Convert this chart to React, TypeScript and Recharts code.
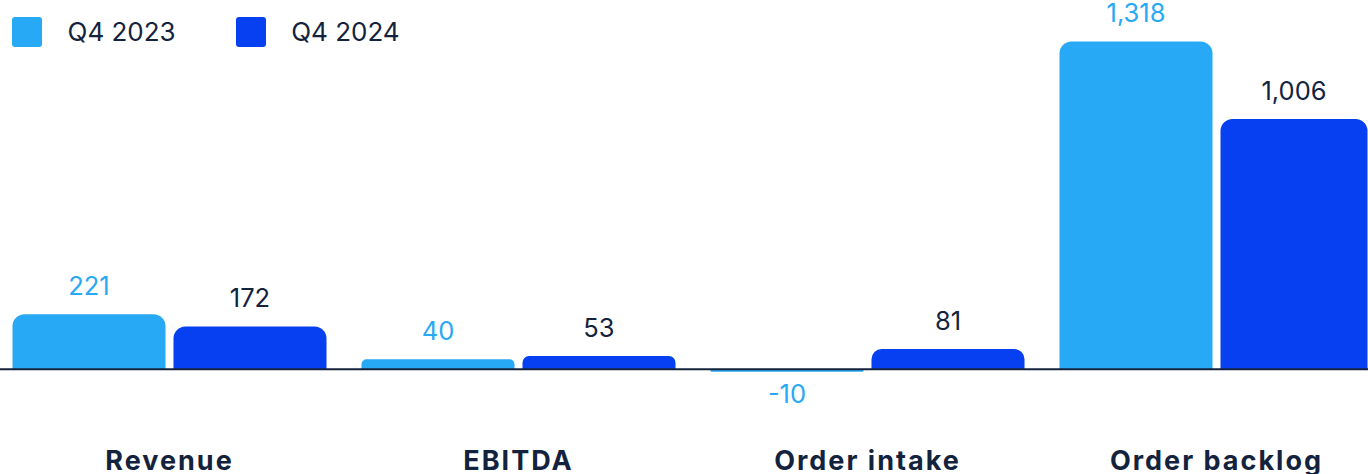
import { Bar, BarChart, LabelList, Legend, Rectangle, ReferenceLine, XAxis, YAxis } from "recharts";

const categories = ["Revenue", "EBITDA", "Order intake", "Order backlog"];
const q4_2023 = [221, 40, -10, 1318];
const q4_2024 = [172, 53, 81, 1006];
const seriesNames = ["Q4 2023", "Q4 2024"];

const data = categories.map((name, i) => ({
  name,
  prev: q4_2023[i],
  curr: q4_2024[i],
}));

const LIGHT = "#28a9f5";
const DARK = "#0640f1";
const NAVY = "#14233d";

const FRAME_W = 1368;
const FRAME_H = 474;
const CHART_LEFT = -5.5;
const CHART_W = 1396;
// bars stop 1px short of the frame edge so their corners stay visible
const VISIBLE_RIGHT = FRAME_W - 1 - CHART_LEFT;

function clampWidth(x: number, width: number) {
  return Math.max(0, Math.min(width, VISIBLE_RIGHT - x));
}

function ClampedBar(props: any) {
  return <Rectangle {...props} width={clampWidth(props.x, props.width)} />;
}

function valueLabel(color: string) {
  return (props: any) => {
    const { x, y, width, height, value } = props;
    const w = clampWidth(Number(x), Number(width));
    const cx = Number(x) + w / 2;
    const top = Math.min(Number(y), Number(y) + Number(height));
    const bottom = Math.max(Number(y), Number(y) + Number(height));
    const v = Number(value);
    const ty = v >= 0 ? top - 19 : bottom + 31;
    return (
      <text x={cx} y={ty} textAnchor="middle" fill={color} fontSize={25.5}>
        {v.toLocaleString("en-US")}
      </text>
    );
  };
}

function LegendContent() {
  const colors = [LIGHT, DARK];
  return (
    <div style={{ display: "flex", alignItems: "center", fontFamily: "Inter, sans-serif" }}>
      {seriesNames.map((name, i) => (
        <div
          key={name}
          style={{ display: "flex", alignItems: "center", marginRight: i === 0 ? 60 : 0 }}
        >
          <span
            style={{
              width: 30,
              height: 30,
              borderRadius: 3,
              background: colors[i],
              marginRight: 25.5,
            }}
          />
          <span style={{ fontSize: 26, color: NAVY }}>{name}</span>
        </div>
      ))}
    </div>
  );
}

export default function App() {
  return (
    <div
      style={{
        position: "fixed",
        left: 0,
        top: 0,
        width: FRAME_W,
        height: FRAME_H,
        overflow: "hidden",
        background: "#ffffff",
      }}
    >
      <div style={{ position: "absolute", left: CHART_LEFT, top: 0 }}>
        <BarChart
          width={CHART_W}
          height={FRAME_H}
          data={data}
          margin={{ top: 21, right: 0, bottom: 0, left: 0 }}
          barCategoryGap={17.5}
          barGap={8}
          style={{ fontFamily: "Inter, sans-serif" }}
        >
          <XAxis
            dataKey="name"
            axisLine={false}
            tickLine={false}
            height={55}
            tickMargin={26}
            tick={{ fill: NAVY, fontSize: 27, fontWeight: 700, letterSpacing: 2 }}
          />
          <YAxis hide domain={[-200, 1400]} />
          <Legend
            layout="vertical"
            align="center"
            verticalAlign="middle"
            wrapperStyle={{ top: 16, left: 17.5, width: "auto", height: 30 }}
            content={<LegendContent />}
          />
          <Bar
            dataKey="prev"
            name={seriesNames[0]}
            fill={LIGHT}
            radius={[12, 12, 0, 0]}
            shape={ClampedBar}
            isAnimationActive={false}
          >
            <LabelList dataKey="prev" content={valueLabel(LIGHT)} />
          </Bar>
          <Bar
            dataKey="curr"
            name={seriesNames[1]}
            fill={DARK}
            radius={[12, 12, 0, 0]}
            shape={ClampedBar}
            isAnimationActive={false}
          >
            <LabelList dataKey="curr" content={valueLabel(NAVY)} />
          </Bar>
          <ReferenceLine y={0} stroke={NAVY} strokeWidth={2} />
        </BarChart>
      </div>
    </div>
  );
}
